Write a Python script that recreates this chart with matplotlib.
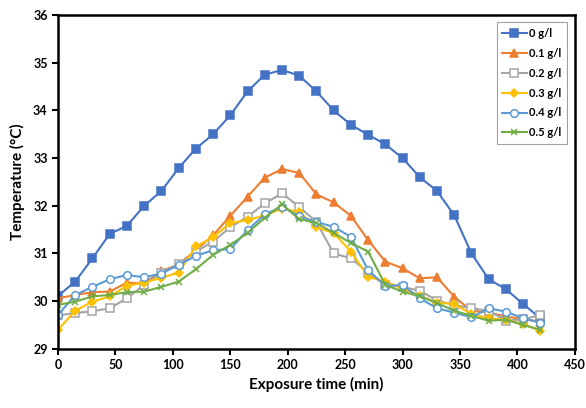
import numpy as np
import matplotlib.pyplot as plt

# ======================
# Data
# ======================
time_min = list(range(0, 421, 15))

temp_0 = [30.11, 30.41, 30.90, 31.41, 31.58, 32.00, 32.31, 32.79, 33.20, 33.50,
          33.90, 34.40, 34.75, 34.85, 34.73, 34.40, 34.00, 33.70, 33.49, 33.29,
          33.00, 32.60, 32.31, 31.80, 31.00, 30.46, 30.25, 29.94, 29.64]
temp_01 = [30.06, 30.13, 30.19, 30.20, 30.39, 30.37, 30.63, 30.77, 31.07, 31.38,
           31.79, 32.19, 32.59, 32.77, 32.69, 32.24, 32.07, 31.79, 31.28, 30.83,
           30.69, 30.48, 30.50, 30.09, 29.80, 29.76, 29.68, 29.62, 29.57]
temp_02 = [29.70, 29.75, 29.79, 29.85, 30.06, 30.34, 30.60, 30.77, 31.04, 31.25,
           31.55, 31.77, 32.05, 32.26, 31.98, 31.66, 31.00, 30.90, 30.60, 30.34,
           30.30, 30.22, 30.01, 29.92, 29.85, 29.80, 29.59, 29.62, 29.71]
temp_03 = [29.40, 29.80, 29.99, 30.10, 30.32, 30.39, 30.49, 30.60, 31.15, 31.34,
           31.64, 31.70, 31.80, 31.94, 31.87, 31.55, 31.43, 31.04, 30.51, 30.41,
           30.27, 30.11, 29.97, 29.94, 29.73, 29.64, 29.61, 29.52, 29.38]
temp_04 = [29.71, 30.13, 30.30, 30.46, 30.55, 30.50, 30.58, 30.76, 30.95, 31.07,
           31.09, 31.49, 31.82, 31.98, 31.78, 31.66, 31.56, 31.35, 30.65, 30.32,
           30.34, 30.06, 29.85, 29.76, 29.66, 29.85, 29.78, 29.64, 29.55]
temp_05 = [29.92, 29.99, 30.10, 30.13, 30.19, 30.20, 30.30, 30.41, 30.67, 30.97,
           31.18, 31.43, 31.75, 32.03, 31.72, 31.64, 31.43, 31.22, 31.04, 30.34,
           30.20, 30.10, 29.96, 29.80, 29.69, 29.59, 29.61, 29.50, 29.40]

labels = ["0 g/l", "0.1 g/l", "0.2 g/l", "0.3 g/l", "0.4 g/l", "0.5 g/l"]
series = [temp_0, temp_01, temp_02, temp_03, temp_04, temp_05]

# ======================
# Styles (Excel-like)
# ======================
colors = ["#4472C4", "#ED7D31", "#A5A5A5", "#FFC000", "#5B9BD5", "#70AD47"]
markers = ["s", "^", "s", "D", "o", "x"]
filled = [True, True, False, True, False, True]
msizes = [5.5, 5.5, 5.5, 4, 5.5, 5]

plt.rcParams["font.family"] = ["Lato", "DejaVu Sans"]

fig = plt.figure(figsize=(5.86, 4.08), dpi=100)
ax = fig.add_axes([0.099, 0.145, 0.882, 0.818])

for y, lab, c, m, f, ms in zip(series, labels, colors, markers, filled, msizes):
    ax.plot(time_min, y, color=c, lw=1.5, marker=m, markersize=ms,
            markerfacecolor=c if f else "white", markeredgecolor=c,
            markeredgewidth=1.1, label=lab)

ax.set_xlim(0, 450)
ax.set_ylim(29, 36)
ax.set_xticks(range(0, 451, 50))
ax.set_yticks(range(29, 37))

for s in ax.spines.values():
    s.set_linewidth(1.8)
ax.tick_params(direction="out", width=1.5, length=4, labelsize=9)
for t in ax.get_xticklabels() + ax.get_yticklabels():
    t.set_fontweight("bold")

ax.set_xlabel("Exposure time (min)", fontsize=11, fontweight="bold", labelpad=4)
ax.set_ylabel("Temperature (°C)", fontsize=11, fontweight="bold", labelpad=6)

leg = ax.legend(loc="upper right", bbox_to_anchor=(0.995, 0.995), fancybox=False,
                framealpha=1, edgecolor="#A0A0A0", prop={"weight": "bold", "size": 8},
                handlelength=2.2, handletextpad=0.2, borderpad=0.5, labelspacing=0.8)
leg.get_frame().set_linewidth(0.8)

plt.savefig("out.png", dpi=100)
